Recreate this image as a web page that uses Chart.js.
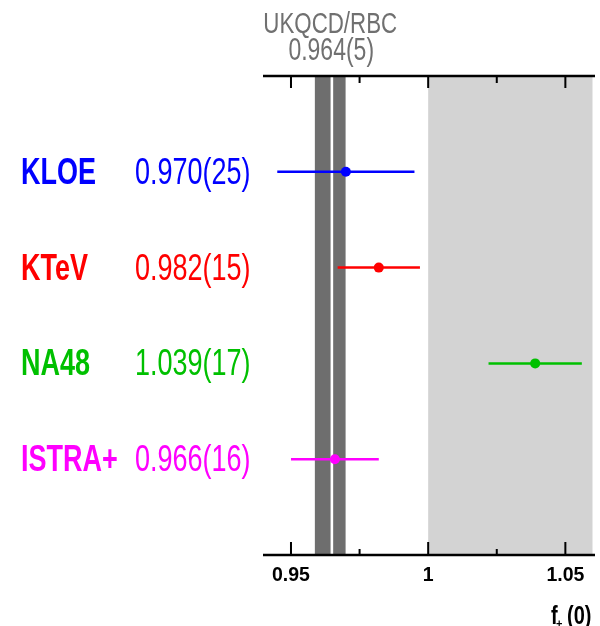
<!DOCTYPE html>
<html>
<head>
<meta charset="utf-8">
<script src="https://cdn.jsdelivr.net/npm/chart.js@4/dist/chart.umd.min.js"></script>
<style>
  html, body { margin: 0; padding: 0; background: #ffffff; }
  #wrap { width: 600px; height: 626px; position: relative; }
</style>
</head>
<body>
<div id="wrap"><canvas id="c" width="600" height="626"></canvas></div>
<script>
// ---- data ----
const experiments = ['KLOE', 'KTeV', 'NA48', 'ISTRA+'];
const values = [0.970, 0.982, 1.039, 0.966];
const errors = [0.025, 0.015, 0.017, 0.016];
const valueLabels = ['0.970(25)', '0.982(15)', '1.039(17)', '0.966(16)'];
const colors = ['#0000ff', '#ff0000', '#00c000', '#ff00ff'];
const rows = [1, 2, 3, 4];

const latticeName = 'UKQCD/RBC';
const latticeValueLabel = '0.964(5)';
const latticeBand = [0.9587, 0.9699];
const latticeCenter = 0.9649;
const shadeFrom = 1.0;

const majorTicks = [0.95, 1, 1.05];
const majorTickLabels = ['0.95', '1', '1.05'];
const minorTicks = [0.975, 1.025];

const FONT = '"Liberation Sans", Arial, Helvetica, sans-serif';

function drawText(ctx, text, x, y, font, color, sy, align) {
  ctx.save();
  ctx.translate(x, y);
  ctx.scale(1, sy);
  ctx.font = font;
  ctx.fillStyle = color;
  ctx.textAlign = align || 'left';
  ctx.textBaseline = 'alphabetic';
  ctx.fillText(text, 0, 0);
  ctx.restore();
}

const decor = {
  id: 'decor',
  beforeDatasetsDraw(chart) {
    const ctx = chart.ctx, a = chart.chartArea, xs = chart.scales.x;
    ctx.save();
    const xs1 = xs.getPixelForValue(shadeFrom);
    ctx.fillStyle = '#d3d3d3';
    ctx.fillRect(xs1, a.top, a.right - 2.5 - xs1, a.bottom - a.top);
    const b0 = xs.getPixelForValue(latticeBand[0]);
    const b1 = xs.getPixelForValue(latticeBand[1]);
    ctx.fillStyle = '#6e6e6e';
    ctx.fillRect(b0, a.top, b1 - b0, a.bottom - a.top);
    const bc = xs.getPixelForValue(latticeCenter);
    ctx.fillStyle = '#ffffff';
    ctx.fillRect(bc - 1.3, a.top, 2.6, a.bottom - a.top);
    ctx.restore();
  },
  afterDatasetsDraw(chart) {
    const ctx = chart.ctx, a = chart.chartArea, xs = chart.scales.x;
    ctx.save();
    ctx.strokeStyle = '#000000';
    ctx.lineWidth = 2.5;
    ctx.beginPath();
    ctx.moveTo(a.left, a.top); ctx.lineTo(a.right, a.top);
    ctx.moveTo(a.left, a.bottom); ctx.lineTo(a.right, a.bottom);
    ctx.stroke();
    ctx.lineWidth = 2;
    ctx.beginPath();
    majorTicks.forEach(v => {
      const p = xs.getPixelForValue(v);
      ctx.moveTo(p, a.top); ctx.lineTo(p, a.top + 12);
      ctx.moveTo(p, a.bottom); ctx.lineTo(p, a.bottom - 13);
    });
    minorTicks.forEach(v => {
      const p = xs.getPixelForValue(v);
      ctx.moveTo(p, a.top); ctx.lineTo(p, a.top + 7);
      ctx.moveTo(p, a.bottom); ctx.lineTo(p, a.bottom - 6);
    });
    ctx.stroke();
    ctx.restore();
  },
  afterDraw(chart) {
    const ctx = chart.ctx, ys = chart.scales.y, xs = chart.scales.x;
    rows.forEach((r, i) => {
      const y = ys.getPixelForValue(r) + 12;
      drawText(ctx, experiments[i], 21, y, 'bold 27px ' + FONT, colors[i], 1.34, 'left');
      drawText(ctx, valueLabels[i], 135, y, '27px ' + FONT, colors[i], 1.34, 'left');
    });
    const cx = xs.getPixelForValue((latticeBand[0] + latticeBand[1]) / 2);
    drawText(ctx, latticeName, cx, 33, '22.3px ' + FONT, '#707070', 1.33, 'center');
    drawText(ctx, latticeValueLabel, cx + 1, 60, '23px ' + FONT, '#707070', 1.33, 'center');
    drawText(ctx, 'f', 551, 624, 'bold 20px ' + FONT, '#000000', 1.25, 'left');
    drawText(ctx, '+', 556, 628, 'bold 11px ' + FONT, '#000000', 1.1, 'left');
    drawText(ctx, '(0)', 567, 624, 'bold 20px ' + FONT, '#000000', 1.25, 'left');
  }
};

const errDatasets = experiments.map((name, i) => ({
  type: 'line',
  label: name + ' error',
  data: [{ x: values[i] - errors[i], y: rows[i] }, { x: values[i] + errors[i], y: rows[i] }],
  borderColor: colors[i],
  borderWidth: 2.5,
  pointRadius: 0,
  showLine: true,
  fill: false
}));

const pointDataset = {
  type: 'scatter',
  label: 'f+(0)',
  data: experiments.map((n, i) => ({ x: values[i], y: rows[i] })),
  pointBackgroundColor: colors,
  pointBorderColor: colors,
  pointRadius: 5,
  pointBorderWidth: 0
};

new Chart(document.getElementById('c'), {
  type: 'scatter',
  data: { datasets: [...errDatasets, pointDataset] },
  options: {
    responsive: false,
    animation: false,
    devicePixelRatio: 1,
    layout: { padding: { left: 263, right: 3, top: 76, bottom: 0 } },
    plugins: { legend: { display: false }, tooltip: { enabled: false } },
    scales: {
      x: {
        type: 'linear',
        min: 0.9398,
        max: 1.0608,
        afterBuildTicks: s => { s.ticks = majorTicks.map(v => ({ value: v })); },
        afterFit: s => { s.height = 71; },
        ticks: {
          autoSkip: false,
          maxRotation: 0,
          padding: 9,
          color: '#000000',
          font: { family: FONT, size: 19.5, weight: 'bold' },
          callback: v => majorTickLabels[majorTicks.indexOf(v)]
        },
        grid: { display: false, drawTicks: false },
        border: { display: false }
      },
      y: {
        type: 'linear',
        min: 0,
        max: 5,
        reverse: true,
        display: false
      }
    }
  },
  plugins: [decor]
});
</script>
</body>
</html>
